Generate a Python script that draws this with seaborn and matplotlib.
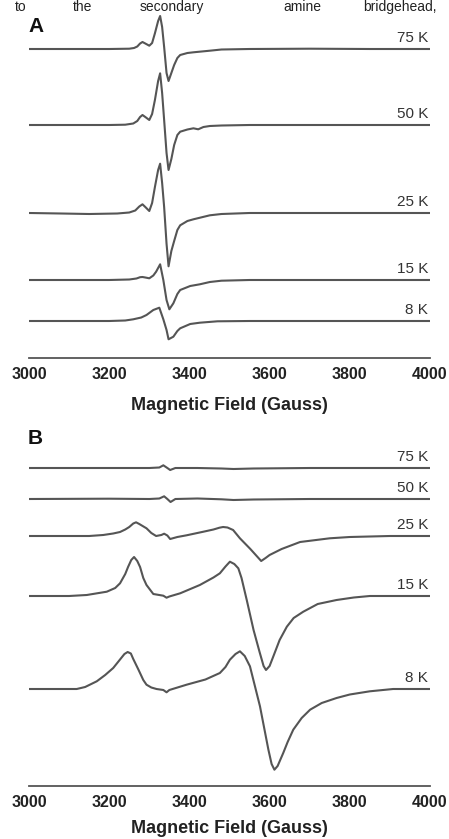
import matplotlib
matplotlib.use("Agg")
import matplotlib.pyplot as plt
import seaborn as sns
import numpy as np
import pandas as pd

# EPR spectra (intensity in arbitrary units, baseline = 0)
temps = ["75 K", "50 K", "25 K", "15 K", "8 K"]

# ---- panel A ----
a75_field = [3000, 3100, 3200, 3250, 3262, 3270, 3277, 3283, 3290, 3300, 3307, 3314, 3322, 3327, 3332,
             3337, 3343, 3348, 3355, 3362, 3370, 3377, 3395, 3410, 3451, 3480, 3550, 3700, 3850, 4000]
a75_int = [0, 0, 0, 0.3, 1, 2.5, 5.5, 7, 5.5, 3.3, 6, 15.7, 28, 33, 22,
           2, -24, -32, -24, -16, -9, -6, -4, -3.3, -1.7, -0.5, 0, 0.3, 0, 0]

a50_field = [3000, 3100, 3200, 3240, 3260, 3270, 3277, 3283, 3290, 3300, 3307, 3314, 3322, 3327, 3332,
             3337, 3343, 3348, 3355, 3362, 3370, 3377, 3395, 3410, 3422, 3435, 3451, 3480, 3550, 3700,
             3850, 4000]
a50_int = [0, 0, 0, 0.3, 1.5, 4, 8, 10, 8, 5, 11, 25, 44, 51.7, 32,
           5, -28, -45, -34, -20, -10, -6.7, -4.5, -3.3, -4.3, -2, -1, -0.5, 0, 0,
           0, 0]

a25_field = [3000, 3080, 3150, 3220, 3250, 3265, 3275, 3283, 3290, 3300, 3307, 3314, 3322, 3327, 3332,
             3337, 3343, 3348, 3355, 3362, 3370, 3377, 3395, 3410, 3451, 3480, 3550, 3700, 3850, 4000]
a25_int = [0, -0.5, -1, -0.5, 0.5, 2.5, 6.5, 8.7, 6, 2, 10, 26, 43, 49.3, 30,
           6, -30.7, -53.3, -38, -28, -17, -12.3, -8, -6.3, -2.3, -1, 0, 0, 0, 0]

a15_field = [3000, 3100, 3200, 3250, 3268, 3277, 3283, 3290, 3300, 3310, 3317, 3327, 3335, 3343, 3350,
             3360, 3370, 3377, 3402, 3426, 3451, 3480, 3550, 3700, 3850, 4000]
a15_int = [0, 0, 0, 0.5, 1.5, 2.8, 3, 2.5, 1.7, 4.5, 8.3, 15.7, 0, -20, -29.3,
           -23.3, -14, -10, -6, -4.3, -2, -0.7, 0, 0, 0, 0]

a8_field = [3000, 3100, 3200, 3240, 3260, 3280, 3293, 3310, 3325, 3335, 3343, 3348, 3360, 3370, 3377,
            3402, 3426, 3470, 3550, 3700, 3850, 4000]
a8_int = [0, 0, 0, 0.5, 1.7, 3.5, 6, 11, 13.3, 1.7, -9, -18.3, -15.7, -10, -7.3,
          -3, -1.7, -0.3, 0, 0, 0, 0]

offset_a = [309, 233, 145, 78, 37]

# ---- panel B ----
b75_field = [3000, 3200, 3300, 3325, 3335, 3345, 3352, 3365, 3420, 3480, 3510, 3560, 3700, 4000]
b75_int = [0, 0, 0, 0.5, 2.7, 0, -2, 0, 0, -0.5, -1, -0.5, 0, 0]

b50_field = [3000, 3200, 3300, 3325, 3337, 3345, 3353, 3365, 3420, 3480, 3510, 3560, 3700, 4000]
b50_int = [0, 0.3, 0, 0.5, 2.7, 0, -3, 0, 0.5, -0.3, -1, -0.5, 0, 0]

b25_field = [3000, 3150, 3185, 3210, 3227, 3240, 3250, 3260, 3267, 3275, 3293, 3305, 3317, 3330, 3337,
             3345, 3352, 3370, 3393, 3435, 3460, 3475, 3484, 3495, 3509, 3526, 3552, 3570, 3579,
             3590, 3600, 3630, 3676, 3750, 3800, 3900, 4000]
b25_int = [0, 0, 1, 2.5, 4, 6.5, 9, 12.5, 13.7, 12, 7.7, 3, 0, 1, 2.3,
           0.5, -3, -1, 0.7, 4.3, 6.5, 8.3, 9, 8.5, 6, -2.3, -13, -21, -25,
           -22, -19, -13, -6, -2.3, -1, 0, 0]

b15_field = [3000, 3100, 3144, 3194, 3215, 3227, 3240, 3247, 3255, 3262, 3270, 3277, 3285, 3293, 3310,
             3335, 3343, 3350, 3377, 3426, 3460, 3476, 3490, 3501, 3512, 3522, 3530, 3543, 3560,
             3575, 3585, 3591, 3600, 3609, 3625, 3643, 3660, 3684, 3720, 3767, 3810, 3850, 3900,
             4000]
b15_int = [0, 0, 1, 4.3, 8, 12.7, 22, 29, 36, 39, 35, 29, 18, 11, 2,
           0.3, -1.7, -0.5, 2.7, 11, 18.5, 22.7, 29.5, 34.3, 32, 27.7, 18, -4, -34,
           -56, -70, -74, -70, -60.7, -44, -30.7, -22, -15.7, -8, -4, -1.5, 0, 0,
           0]

b8_field = [3000, 3119, 3140, 3169, 3190, 3210, 3230, 3238, 3246, 3254, 3260, 3273, 3285, 3293, 3305,
            3318, 3335, 3343, 3350, 3393, 3440, 3476, 3490, 3501, 3515, 3526, 3538, 3551, 3576,
            3597, 3605, 3612, 3620, 3634, 3645, 3659, 3680, 3701, 3730, 3767, 3800, 3850, 3908,
            4000]
b8_int = [0, 0, 2, 7.7, 14, 21, 31, 35, 37, 35.5, 30, 19.3, 9, 4.3, 1.5,
          0, -1, -3.3, -1, 4.3, 9.5, 16, 22, 29.3, 35, 37.7, 33, 22.7, -17.3,
          -60.7, -75, -80.7, -77, -64, -53, -40.7, -29, -20.7, -14, -9, -5.5, -2.3, 0,
          0]

offset_b = [318, 287, 250, 190, 97]

x_ticks = [3000, 3200, 3400, 3600, 3800, 4000]
x_label = "Magnetic Field (Gauss)"

LINE = "#555555"


def build_frame(fields, ints, offsets):
    rows = []
    for t, f, v, off in zip(temps, fields, ints, offsets):
        for x, y in zip(f, v):
            rows.append({"field": x, "signal": y + off, "temp": t})
    return pd.DataFrame(rows)


def draw_panel(ax, df, offsets, top):
    sns.lineplot(data=df, x="field", y="signal", units="temp", estimator=None,
                 color=LINE, linewidth=1.5, ax=ax, legend=False)
    for t, off in zip(temps, offsets):
        ax.text(3995, off + 4, t, ha="right", va="bottom", fontsize=11, color="#333333")
    ax.set_xlim(3000, 4000)
    ax.set_ylim(0, top)
    ax.set_xticks(x_ticks)
    ax.set_xticks(range(3100, 4000, 200), minor=True)
    ax.set_yticks([])
    ax.set_ylabel("")
    ax.set_xlabel(x_label, fontsize=13, fontweight="bold", color="#222222")
    for s in ["top", "left", "right"]:
        ax.spines[s].set_visible(False)
    ax.spines["bottom"].set_color(LINE)
    ax.spines["bottom"].set_linewidth(1.3)
    ax.tick_params(axis="x", which="major", direction="out", length=3.6, width=1.0,
                   color=LINE, pad=2.9, labelsize=11.5, labelcolor="#222222")
    ax.tick_params(axis="x", which="minor", direction="out", length=2.2, width=1.0, color=LINE)
    for lab in ax.get_xticklabels():
        lab.set_fontweight("bold")
    ax.set_facecolor("none")


sns.set_theme(style="white")
plt.rcParams["font.family"] = ["Liberation Sans", "DejaVu Sans"]

fig = plt.figure(figsize=(4.49, 8.39), dpi=100)
W, H = 449.0, 839.0

ax_a = fig.add_axes([29 / W, 1 - 358 / H, 401 / W, 350 / H])
ax_b = fig.add_axes([29 / W, 1 - 786 / H, 401 / W, 334 / H])

df_a = build_frame([a75_field, a50_field, a25_field, a15_field, a8_field],
                   [a75_int, a50_int, a25_int, a15_int, a8_int], offset_a)
df_b = build_frame([b75_field, b50_field, b25_field, b15_field, b8_field],
                   [b75_int, b50_int, b25_int, b15_int, b8_int], offset_b)

draw_panel(ax_a, df_a, offset_a, 350)
draw_panel(ax_b, df_b, offset_b, 334)
ax_a.xaxis.set_label_coords(0.5, -(42 - 3.4) / 350)
ax_b.xaxis.set_label_coords(0.5, -(37 - 3.4) / 334)

# panel letters
fig.text(28 / W, 1 - 32 / H, "A", fontsize=15, fontweight="bold", va="baseline", color="#111111")
fig.text(28 / W, 1 - 444 / H, "B", fontsize=15, fontweight="bold", va="baseline", color="#111111")

# running text line above the figure (cut in the source page; kept fully visible here)
words = ["to", "the", "secondary", "amine", "bridgehead,"]
word_x = [15, 73, 140, 283, 363]
for w, xp in zip(words, word_x):
    fig.text(xp / W, 1 - 11 / H, w, fontsize=10, va="baseline", ha="left", color="#222222")

fig.savefig("out.png", dpi=100, facecolor="white")
